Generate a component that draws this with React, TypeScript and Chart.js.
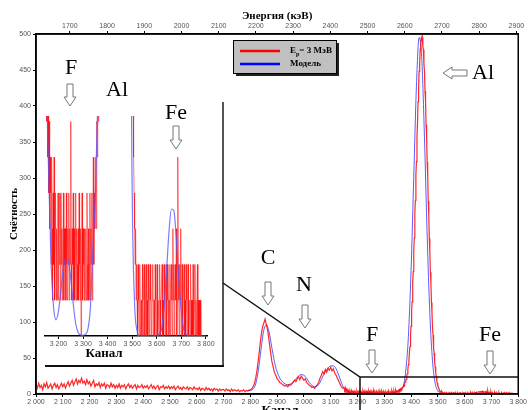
import React, { useEffect, useRef } from 'react';
import { Chart, registerables } from 'chart.js';
Chart.register(...registerables);

// Measured spectrum, part 1: channel = RED_COARSE_START + i * RED_COARSE_STEP (2000..3145)
const RED_COARSE_START = 2000;
const RED_COARSE_STEP = 5;
const RED_COUNTS_COARSE = [
  // 2000
  13, 8, 15, 9, 12, 6, 14, 10, 16, 8, 11, 14, 7, 12, 15, 9, 13, 7, 11, 15,
  // 2100
  10, 14, 8, 13, 17, 11, 15, 19, 12, 17, 21, 14, 19, 16, 22, 15, 18, 13, 20, 14,
  // 2200
  17, 11, 15, 19, 10, 14, 12, 16, 9, 14, 11, 15, 8, 13, 12, 9, 15, 10, 13, 8,
  // 2300
  12, 9, 14, 8, 12, 10, 13, 7, 11, 14, 9, 12, 8, 11, 13, 7, 12, 9, 10, 13,
  // 2400
  8, 11, 9, 12, 7, 10, 13, 8, 11, 7, 10, 12, 6, 10, 9, 12, 7, 10, 8, 11,
  // 2500
  7, 10, 8, 11, 6, 9, 11, 7, 9, 6, 10, 8, 7, 10, 6, 9, 8, 6, 10, 7,
  // 2600
  8, 6, 9, 5, 8, 7, 5, 9, 6, 8, 5, 7, 4, 8, 6, 7, 4, 7, 5, 6,
  // 2700
  6, 4, 7, 5, 6, 3, 7, 4, 6, 5, 4, 6, 3, 5, 4, 6, 3, 5, 4, 5,
  // 2800
  6, 7, 10, 14, 22, 33, 48, 64, 80, 92, 98, 104, 96, 88, 74, 60, 46, 38, 30, 26,
  // 2900
  21, 19, 16, 15, 13, 12, 11, 12, 10, 13, 12, 14, 16, 19, 17, 21, 24, 20, 25, 22,
  // 3000
  19, 21, 16, 14, 12, 11, 9, 10, 8, 11, 13, 16, 22, 26, 31, 28, 34, 30, 36, 33,
  // 3100
  37, 32, 35, 29, 26, 22, 18, 14, 10, 8,
];

// Measured spectrum, part 2: channel = RED_FINE_START + i * RED_FINE_STEP (3150..3800)
const RED_FINE_START = 3150;
const RED_FINE_STEP = 2;
const RED_COUNTS_FINE = [
  8, 6, 9, 5, 7, 4, 6, 3, 5, 4, // 3150
  2, 5, 3, 1, 4, 2, 5, 1, 3, 4, // 3170
  1, 3, 1, 2, 4, 1, 3, 2, 4, 1, // 3190
  4, 2, 3, 1, 2, 4, 1, 3, 2, 3, // 3210
  1, 4, 2, 1, 3, 2, 4, 1, 3, 2, // 3230
  6, 2, 1, 3, 2, 4, 1, 3, 1, 2, // 3250
  4, 1, 3, 2, 1, 3, 1, 4, 2, 1, // 3270
  3, 0, 2, 4, 1, 3, 2, 1, 3, 1, // 3290
  2, 3, 1, 4, 2, 1, 3, 1, 2, 4, // 3310
  1, 3, 2, 4, 1, 3, 5, 2, 4, 3, // 3330
  4, 5, 3, 6, 5, 7, 6, 8, 7, 9, // 3350
  10, 12, 11, 15, 16, 19, 20, 26, 28, 34, // 3370
  41, 47, 59, 66, 83, 94, 115, 128, 154, 170, // 3390
  198, 217, 250, 269, 304, 323, 357, 376, 406, 423, // 3410
  448, 459, 479, 484, 494, 490, 495, 483, 478, 458, // 3430
  448, 421, 407, 374, 357, 322, 304, 268, 249, 216, // 3450
  197, 169, 153, 127, 113, 92, 82, 64, 57, 44, // 3470
  38, 29, 25, 18, 15, 11, 9, 7, 5, 4, // 3490
  3, 2, 3, 1, 2, 1, 0, 2, 1, 0, // 3510
  1, 2, 0, 1, 1, 0, 2, 1, 0, 1, // 3530
  2, 0, 1, 1, 2, 0, 1, 0, 2, 1, // 3550
  0, 1, 2, 1, 0, 1, 1, 2, 0, 1, // 3570
  1, 0, 2, 1, 0, 1, 2, 0, 1, 1, // 3590
  0, 2, 1, 0, 1, 1, 2, 0, 1, 0, // 3610
  2, 1, 0, 1, 2, 1, 0, 2, 1, 1, // 3630
  0, 1, 2, 0, 1, 2, 1, 0, 3, 1, // 3650
  2, 0, 1, 2, 1, 3, 0, 1, 5, 2, // 3670
  1, 0, 2, 1, 3, 0, 1, 2, 0, 1, // 3690
  1, 2, 0, 1, 0, 2, 1, 0, 1, 2, // 3710
  0, 1, 1, 0, 2, 1, 0, 1, 0, 2, // 3730
  1, 0, 1, 2, 0, 1, 0, 1, 2, 0, // 3750
  1, 0, 1, 0, 1, 0, 0, 0, 0, 0, // 3770
  0, 0, 0, 0, 0, 0, // 3790
];

// Model, channel = MODEL_START + i * MODEL_STEP
const MODEL_START = 2790;
const MODEL_STEP = 10;
const MODEL_COUNTS = [
  5, 5, 7, 14, 33, 62, 88, 96, 86, 65, // 2790
  45, 31, 22, 17, 14, 13, 14, 17, 21, 25, // 2890
  27, 26, 22, 16, 12, 10, 11, 16, 24, 31, // 2990
  36, 39, 39, 35, 26, 16, 8, 4.5, 2.0, 0.8, // 3090
  0.45, 0.7, 1.3, 1.9, 2.15, 2.1, 1.6, 0.9, 0.35, 0.1, // 3190
  0.03, 0.02, 0.05, 0.2, 0.8, 2.4, 4, 6.5, 10, 32, // 3290
  80, 172, 301, 428, 495, 465, 356, 221, 112, 46, // 3390
  15, 4.2, 0.9, 0.15, 0, 0, 0, 0, 0, 0, // 3490
  0, 0, 0.05, 0.2, 0.8, 1.8, 2.9, 3.55, 3.5, 2.7, // 3590
  1.6, 0.7, 0.2, 0.05, 0, 0, 0, 0, 0, 0, // 3690
  0, 0, // 3790
];

const CHANNEL_MIN = 2000;
const CHANNEL_MAX = 3800;
const CHANNEL_TICK_STEP = 100;
const COUNT_MIN = 0;
const COUNT_MAX = 500;
const COUNT_TICK_STEP = 50;
const ENERGY_MIN = 1609;
const ENERGY_MAX = 2905;
const ENERGY_TICKS = [1700, 1800, 1900, 2000, 2100, 2200, 2300, 2400, 2500, 2600, 2700, 2800, 2900];
const INSET_CH_MIN = 3145;
const INSET_CH_MAX = 3805;
const INSET_TICKS = [3200, 3300, 3400, 3500, 3600, 3700, 3800];
const INSET_COUNT_MAX = 6.15;

const LEGEND_LABELS = ['= 3 МэВ', 'Модель'];

const redPoints = [
  ...RED_COUNTS_COARSE.map((v, i) => ({ x: RED_COARSE_START + i * RED_COARSE_STEP, y: v })),
  ...RED_COUNTS_FINE.map((v, i) => ({ x: RED_FINE_START + i * RED_FINE_STEP, y: v })),
];
const modelPoints = MODEL_COUNTS.map((v, i) => ({ x: MODEL_START + i * MODEL_STEP, y: v }));

const fmtChannel = (v: number) =>
  v >= 1000 ? `${Math.floor(v / 1000)} ${String(v % 1000).padStart(3, '0')}` : String(v);

const tickFont = { size: 7, family: '"Liberation Sans", Arial, sans-serif' };

function downArrow(ctx: CanvasRenderingContext2D, cx: number, y0: number, y1: number) {
  const sw = 3, hw = 6, hh = 9;
  ctx.beginPath();
  ctx.moveTo(cx - sw, y0);
  ctx.lineTo(cx + sw, y0);
  ctx.lineTo(cx + sw, y1 - hh);
  ctx.lineTo(cx + hw, y1 - hh);
  ctx.lineTo(cx, y1);
  ctx.lineTo(cx - hw, y1 - hh);
  ctx.lineTo(cx - sw, y1 - hh);
  ctx.closePath();
  ctx.fillStyle = '#fff';
  ctx.fill();
  ctx.strokeStyle = '#777';
  ctx.lineWidth = 1;
  ctx.stroke();
}

function leftArrow(ctx: CanvasRenderingContext2D, xTip: number, xTail: number, cy: number) {
  const sw = 3, hw = 6, hl = 9;
  ctx.beginPath();
  ctx.moveTo(xTail, cy - sw);
  ctx.lineTo(xTail, cy + sw);
  ctx.lineTo(xTip + hl, cy + sw);
  ctx.lineTo(xTip + hl, cy + hw);
  ctx.lineTo(xTip, cy);
  ctx.lineTo(xTip + hl, cy - hw);
  ctx.lineTo(xTip + hl, cy - sw);
  ctx.closePath();
  ctx.fillStyle = '#fff';
  ctx.fill();
  ctx.strokeStyle = '#777';
  ctx.lineWidth = 1;
  ctx.stroke();
}

const mainDecor = {
  id: 'mainDecor',
  afterDraw(chart: any) {
    const ctx: CanvasRenderingContext2D = chart.ctx;
    const a = chart.chartArea;
    ctx.save();
    ctx.strokeStyle = '#000';
    ctx.lineWidth = 1.5;
    ctx.strokeRect(a.left, a.top, a.right - a.left, a.bottom - a.top);

    ctx.fillStyle = '#000';
    ctx.textAlign = 'center';
    ctx.textBaseline = 'middle';
    ctx.font = 'bold 11px "Liberation Serif", serif';
    ctx.fillText('Энергия (кэВ)', (a.left + a.right) / 2, 16);
    ctx.save();
    ctx.translate(14, (a.top + a.bottom) / 2);
    ctx.rotate(-Math.PI / 2);
    ctx.fillText('Счётность', 0, 0);
    ctx.restore();
    ctx.font = 'bold 13px "Liberation Serif", serif';
    ctx.textBaseline = 'top';
    ctx.fillText('Канал', 280, 404);

    // zoom frame lines
    ctx.lineCap = 'butt';
    ctx.strokeStyle = '#555';
    ctx.lineWidth = 2;
    ctx.beginPath();
    ctx.moveTo(223, 102);
    ctx.lineTo(223, 366);
    ctx.stroke();
    ctx.strokeStyle = '#111';
    ctx.beginPath();
    ctx.moveTo(45, 366);
    ctx.lineTo(224, 366);
    ctx.stroke();
    ctx.lineWidth = 1.5;
    ctx.beginPath();
    ctx.moveTo(223, 283);
    ctx.lineTo(360, 377);
    ctx.lineTo(a.right, 377);
    ctx.moveTo(360, 377);
    ctx.lineTo(360, 410);
    ctx.stroke();

    // legend box
    const bx = 233, by = 40, bw = 103, bh = 33;
    ctx.fillStyle = '#222';
    ctx.fillRect(bx + 3, by + 3, bw, bh);
    ctx.fillStyle = '#c0c0c0';
    ctx.fillRect(bx, by, bw, bh);
    ctx.strokeStyle = '#000';
    ctx.lineWidth = 1;
    ctx.strokeRect(bx + 0.5, by + 0.5, bw, bh);
    ctx.lineWidth = 2.5;
    ctx.strokeStyle = '#ff0000';
    ctx.beginPath();
    ctx.moveTo(240, 51);
    ctx.lineTo(280, 51);
    ctx.stroke();
    ctx.strokeStyle = '#0000ff';
    ctx.beginPath();
    ctx.moveTo(240, 64);
    ctx.lineTo(280, 64);
    ctx.stroke();
    ctx.fillStyle = '#000';
    ctx.textAlign = 'left';
    ctx.textBaseline = 'middle';
    ctx.font = 'bold 9px "Liberation Serif", serif';
    ctx.fillText('E', 290, 51);
    const ew = ctx.measureText('E').width;
    ctx.font = 'bold 6px "Liberation Serif", serif';
    ctx.fillText('p', 290 + ew, 54);
    const pw = ctx.measureText('p').width;
    ctx.font = 'bold 9px "Liberation Serif", serif';
    ctx.fillText(LEGEND_LABELS[0], 290 + ew + pw, 51);
    ctx.fillText(LEGEND_LABELS[1], 290, 64);

    // element annotations
    ctx.font = '22px "Liberation Serif", serif';
    ctx.textAlign = 'center';
    ctx.textBaseline = 'middle';
    ctx.fillStyle = '#000';
    ctx.fillText('C', 268, 258);
    downArrow(ctx, 268, 282, 305);
    ctx.fillStyle = '#000';
    ctx.fillText('N', 304, 285);
    downArrow(ctx, 305, 305, 328);
    ctx.fillStyle = '#000';
    ctx.fillText('F', 372, 335);
    downArrow(ctx, 372, 350, 373);
    ctx.fillStyle = '#000';
    ctx.fillText('Fe', 490, 335);
    downArrow(ctx, 490, 351, 374);
    leftArrow(ctx, 443, 467, 73);
    ctx.fillStyle = '#000';
    ctx.fillText('Al', 483, 73);
    ctx.restore();
  },
};

const insetDecor = {
  id: 'insetDecor',
  afterDraw(chart: any) {
    const ctx: CanvasRenderingContext2D = chart.ctx;
    ctx.save();
    ctx.fillStyle = '#000';
    ctx.textAlign = 'center';
    ctx.textBaseline = 'middle';
    ctx.font = 'bold 13px "Liberation Serif", serif';
    ctx.fillText('Канал', 104, 354);
    ctx.font = '22px "Liberation Serif", serif';
    ctx.fillText('F', 71, 68);
    downArrow(ctx, 70, 84, 106);
    ctx.fillStyle = '#000';
    ctx.fillText('Al', 117, 90);
    ctx.fillText('Fe', 176, 113);
    downArrow(ctx, 176, 126, 149);
    ctx.restore();
  },
};

const axisGrid = { drawOnChartArea: false, tickLength: 3, color: '#000', lineWidth: 1 };
const axisBorder = { color: '#000', width: 1.5 };

export default function App() {
  const mainRef = useRef<HTMLCanvasElement>(null);
  const insetRef = useRef<HTMLCanvasElement>(null);

  useEffect(() => {
    const main = new Chart(mainRef.current as HTMLCanvasElement, {
      type: 'line',
      data: {
        datasets: [
          {
            data: redPoints,
            borderColor: 'rgba(255,0,0,0.85)',
            borderWidth: 1.2,
            pointRadius: 0,
            tension: 0,
          },
          {
            data: modelPoints,
            borderColor: 'rgba(50,50,255,0.8)',
            borderWidth: 1,
            pointRadius: 0,
            cubicInterpolationMode: 'monotone',
          },
        ],
      } as any,
      options: {
        responsive: false,
        animation: false,
        events: [],
        layout: { padding: { left: 0, right: 8, top: 0, bottom: 0 } },
        plugins: { legend: { display: false }, tooltip: { enabled: false } },
        scales: {
          x: {
            type: 'linear',
            position: 'bottom',
            min: CHANNEL_MIN,
            max: CHANNEL_MAX,
            afterFit: (s: any) => { s.height = 16; },
            ticks: {
              stepSize: CHANNEL_TICK_STEP,
              autoSkip: false,
              maxRotation: 0,
              padding: 1,
              font: tickFont,
              color: '#555',
              callback: (v: any) => fmtChannel(Number(v)),
            },
            grid: axisGrid,
            border: axisBorder,
          },
          x2: {
            type: 'linear',
            position: 'top',
            min: ENERGY_MIN,
            max: ENERGY_MAX,
            afterFit: (s: any) => { s.height = 34; },
            afterBuildTicks: (s: any) => { s.ticks = ENERGY_TICKS.map((v) => ({ value: v })); },
            ticks: {
              autoSkip: false,
              maxRotation: 0,
              padding: 1,
              font: tickFont,
              color: '#555',
              callback: (v: any) => String(v),
            },
            grid: axisGrid,
            border: axisBorder,
          },
          y: {
            type: 'linear',
            min: COUNT_MIN,
            max: COUNT_MAX,
            afterFit: (s: any) => { s.width = 36; },
            ticks: {
              stepSize: COUNT_TICK_STEP,
              padding: 2,
              font: tickFont,
              color: '#555',
            },
            grid: axisGrid,
            border: axisBorder,
          },
        },
      } as any,
      plugins: [mainDecor],
    });

    const inset = new Chart(insetRef.current as HTMLCanvasElement, {
      type: 'line',
      data: {
        datasets: [
          {
            data: modelPoints,
            borderColor: 'rgba(90,90,255,0.8)',
            borderWidth: 1.2,
            pointRadius: 0,
            cubicInterpolationMode: 'monotone',
          },
          {
            data: redPoints,
            borderColor: 'rgba(255,0,0,0.55)',
            borderWidth: 1,
            pointRadius: 0,
            tension: 0,
          },
        ],
      } as any,
      options: {
        responsive: false,
        animation: false,
        events: [],
        layout: { padding: { left: 45, right: 321, top: 116, bottom: 62 } },
        plugins: { legend: { display: false }, tooltip: { enabled: false } },
        scales: {
          x: {
            type: 'linear',
            min: INSET_CH_MIN,
            max: INSET_CH_MAX,
            afterFit: (s: any) => { s.height = 12; },
            afterBuildTicks: (s: any) => { s.ticks = INSET_TICKS.map((v) => ({ value: v })); },
            ticks: {
              autoSkip: false,
              maxRotation: 0,
              padding: 1,
              font: tickFont,
              color: '#555',
              callback: (v: any) => fmtChannel(Number(v)),
            },
            grid: axisGrid,
            border: axisBorder,
          },
          y: {
            type: 'linear',
            display: false,
            min: 0,
            max: INSET_COUNT_MAX,
          },
        },
      } as any,
      plugins: [insetDecor],
    });

    return () => {
      main.destroy();
      inset.destroy();
    };
  }, []);

  return (
    <div
      style={{
        position: 'fixed',
        left: 0,
        top: 0,
        width: 528,
        height: 410,
        background: '#fff',
        overflow: 'hidden',
      }}
    >
      <canvas ref={mainRef} width={528} height={410} style={{ position: 'absolute', left: 0, top: 0 }} />
      <canvas ref={insetRef} width={528} height={410} style={{ position: 'absolute', left: 0, top: 0 }} />
    </div>
  );
}
